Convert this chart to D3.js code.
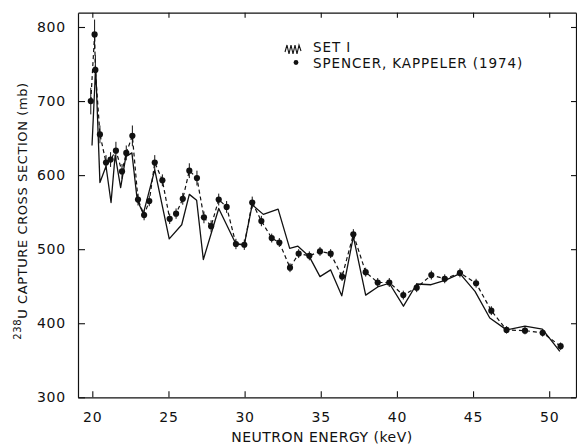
<!DOCTYPE html>
<html>
<head>
<meta charset="utf-8">
<script src="https://cdn.jsdelivr.net/npm/d3@7/dist/d3.min.js"></script>
<style>
  html, body { margin: 0; padding: 0; background: #fff; }
  svg { display: block; }
  text { font-family: "DejaVu Sans", sans-serif; fill: #111; }
</style>
</head>
<body>
<svg id="chart" width="577" height="445"></svg>
<script>
// ---- data ----
const xTicks = [20, 25, 30, 35, 40, 45, 50];
const yTicks = [300, 400, 500, 600, 700, 800];

// Spencer, Kappeler (1974) points
const skEnergy = [19.9, 20.15, 20.2, 20.5, 20.9, 21.2, 21.55, 21.95, 22.23, 22.63, 23.0, 23.4, 23.74, 24.1, 24.6, 25.08, 25.5, 25.94, 26.37, 26.87, 27.33, 27.8, 28.3, 28.82, 29.43, 29.98, 30.5, 31.1, 31.78, 32.28, 32.98, 33.55, 34.25, 34.95, 35.65, 36.4, 37.14, 37.95, 38.74, 39.5, 40.42, 41.3, 42.26, 43.14, 44.14, 45.2, 46.2, 47.2, 48.41, 49.57, 50.75];
const skSigma = [700, 790, 742, 655, 617, 621, 633, 605, 630, 653, 567, 546, 565, 617, 593, 541, 548, 568, 606, 596, 543, 531, 567, 557, 507, 506, 563, 538, 515, 509, 475, 494, 491, 497, 494, 463, 520, 469, 455, 455, 438, 448, 465, 460, 468, 454, 417, 391, 390, 387, 369];
const skError = [18, 20, 20, 12, 10, 10, 12, 10, 10, 14, 8, 7, 7, 10, 8, 7, 7, 8, 10, 10, 8, 8, 8, 8, 7, 7, 8, 7, 6, 6, 6, 6, 6, 6, 6, 6, 7, 6, 6, 6, 6, 6, 6, 6, 6, 6, 6, 5, 5, 5, 5];

// SET I curve
const setEnergy = [19.98, 20.22, 20.5, 20.9, 21.23, 21.5, 21.86, 22.2, 22.6, 22.95, 23.35, 24.1, 25.05, 25.87, 26.37, 26.85, 27.29, 28.3, 29.43, 29.98, 30.5, 31.23, 32.2, 32.96, 33.5, 34.25, 34.95, 35.65, 36.38, 37.14, 37.95, 38.74, 39.5, 40.43, 41.3, 42.24, 43.16, 44.14, 45.13, 46.1, 47.2, 48.41, 49.55, 50.7];
const setSigma = [640, 746, 590, 612, 563, 627, 583, 625, 630, 566, 548, 607, 514, 533, 574, 566, 486, 555, 507, 506, 560, 547, 554, 501, 504, 490, 463, 472, 437, 517, 438, 449, 454, 423, 453, 452, 458, 467, 443, 407, 391, 396, 392, 362];

// ---- layout ----
const svg = d3.select("#chart");
const pLeft = 78, pRight = 576, pTop = 12.7, pBottom = 397.3;

const x = d3.scaleLinear().domain([19.06, 51.76]).range([pLeft, pRight]);
const y = d3.scaleLinear().domain([300, 819.3]).range([pBottom, pTop]);

const ink = "#111";

// axes
const gB = svg.append("g").attr("transform", `translate(0,${pBottom})`)
  .call(d3.axisBottom(x).tickValues(xTicks).tickSizeInner(-6).tickSizeOuter(0).tickPadding(14.5).tickFormat(d3.format("d")));
const gT = svg.append("g").attr("transform", `translate(0,${pTop})`)
  .call(d3.axisTop(x).tickValues(xTicks).tickSizeInner(-5).tickSizeOuter(0).tickFormat(""));
const gL = svg.append("g").attr("transform", `translate(${pLeft},0)`)
  .call(d3.axisLeft(y).tickValues(yTicks).tickSizeInner(-7).tickSizeOuter(0).tickPadding(12).tickFormat(d3.format("d")));
const gR = svg.append("g").attr("transform", `translate(${pRight},0)`)
  .call(d3.axisRight(y).tickValues(yTicks).tickSizeInner(-5).tickSizeOuter(0).tickFormat(""));

[gB, gT, gL, gR].forEach(g => {
  g.selectAll("path.domain").attr("stroke", ink).attr("stroke-width", 1.2);
  g.selectAll(".tick line").attr("stroke", ink).attr("stroke-width", 1.1);
  g.selectAll(".tick text").attr("fill", ink)
    .style("font-family", "'DejaVu Sans', sans-serif")
    .style("font-size", "14px").style("letter-spacing", "0.8px");
});

// axis titles
svg.append("text")
  .attr("x", 322).attr("y", 442)
  .attr("text-anchor", "middle")
  .style("font-size", "14px").style("letter-spacing", "0.5px")
  .text("NEUTRON ENERGY (keV)");

const yt = svg.append("text")
  .attr("transform", "translate(27,211) rotate(-90)")
  .attr("text-anchor", "middle")
  .style("font-size", "13px").style("letter-spacing", "0.6px");
yt.append("tspan").attr("dy", -6).style("font-size", "10px").text("238");
yt.append("tspan").attr("dy", 6).text("U CAPTURE CROSS SECTION (mb)");

// SET I solid line
const setData = setEnergy.map((e, i) => [e, setSigma[i]]);
svg.append("path")
  .datum(setData)
  .attr("fill", "none").attr("stroke", ink).attr("stroke-width", 1.3)
  .attr("stroke-linejoin", "round")
  .attr("d", d3.line().x(d => x(d[0])).y(d => y(d[1])));

// Spencer-Kappeler dashed line
const skData = skEnergy.map((e, i) => ({ e, s: skSigma[i], err: skError[i] }));
svg.append("path")
  .datum(skData)
  .attr("fill", "none").attr("stroke", ink).attr("stroke-width", 1.2)
  .attr("stroke-dasharray", "4,3")
  .attr("d", d3.line().x(d => x(d.e)).y(d => y(d.s)));

// error bars
svg.append("g").selectAll("line").data(skData).join("line")
  .attr("x1", d => x(d.e)).attr("x2", d => x(d.e))
  .attr("y1", d => y(d.s - d.err)).attr("y2", d => y(d.s + d.err))
  .attr("stroke", ink).attr("stroke-width", 1);

// points
svg.append("g").selectAll("circle").data(skData).join("circle")
  .attr("cx", d => x(d.e)).attr("cy", d => y(d.s)).attr("r", 3.1)
  .attr("fill", ink);

// legend
svg.append("path")
  .attr("d", "M285,52 L287,45 L289,54 L291,45 L293,54 L295,45 L297,54 L299,45 L301,51")
  .attr("fill", "none").attr("stroke", ink).attr("stroke-width", 1.1);
svg.append("circle").attr("cx", 296).attr("cy", 62.5).attr("r", 2.4).attr("fill", ink);
svg.append("text").attr("x", 313).attr("y", 52)
  .style("font-size", "13.5px").style("letter-spacing", "0.9px").text("SET I");
svg.append("text").attr("x", 313).attr("y", 68)
  .style("font-size", "13.5px").style("letter-spacing", "0.9px").text("SPENCER, KAPPELER (1974)");
</script>
</body>
</html>
